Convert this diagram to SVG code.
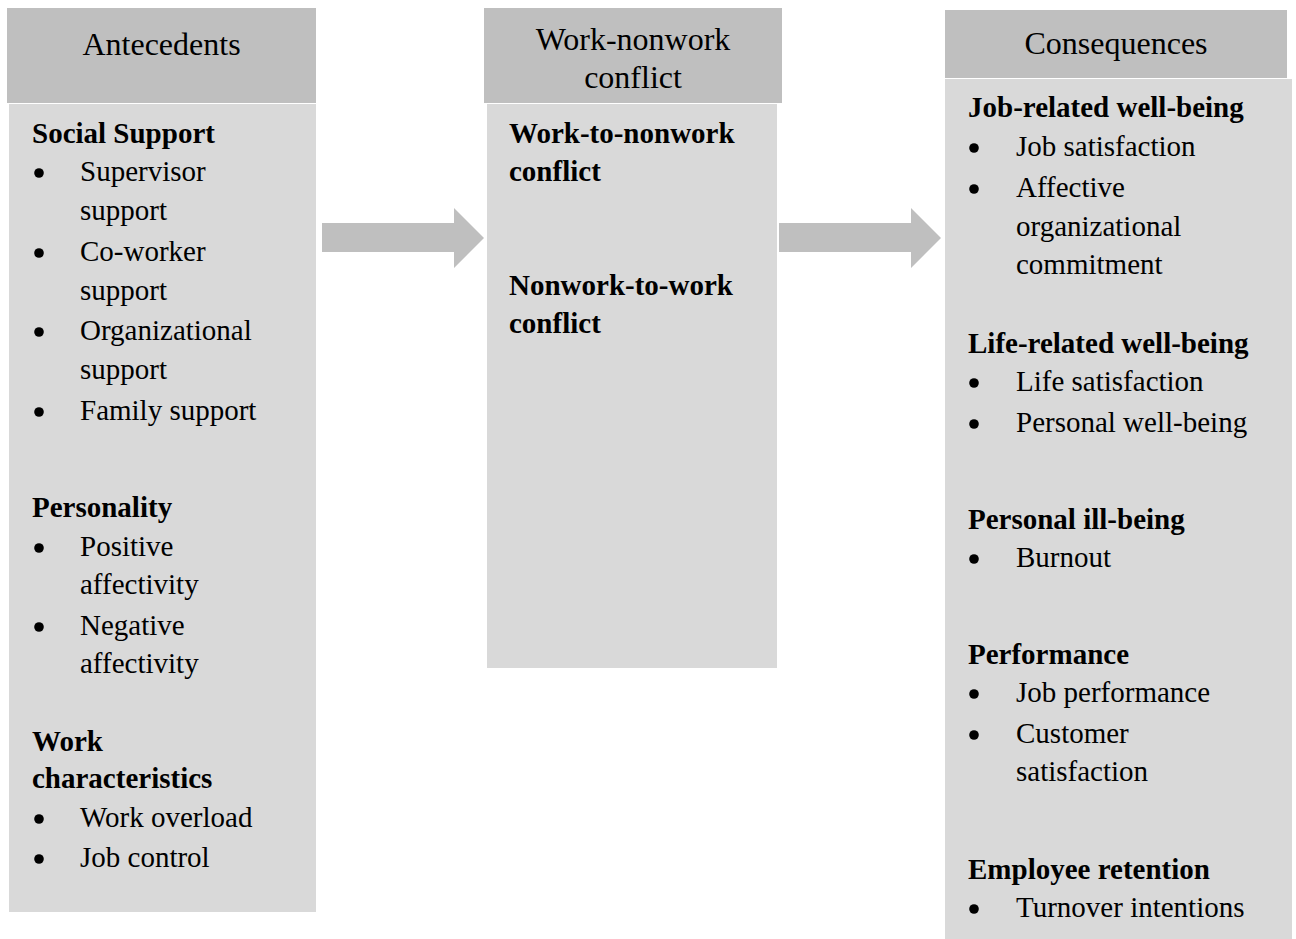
<svg xmlns="http://www.w3.org/2000/svg" width="1296" height="939" viewBox="0 0 1296 939">
  <style>
    .head { fill: #bfbfbf; }
    .body { fill: #d9d9d9; }
    .arrow { fill: #bfbfbf; }
    .dot { fill: #000; }
    text { font-family: "Liberation Serif", "Times New Roman", serif; fill: #000; }
    .title { font-size: 32px; text-anchor: middle; }
    .h { font-size: 29px; font-weight: bold; }
    .t { font-size: 29px; }
  </style>
  <rect x="0" y="0" width="1296" height="939" fill="#ffffff"/>

  <!-- Antecedents column -->
  <g id="antecedents">
    <rect class="head" x="7" y="8" width="309" height="95"/>
    <rect class="body" x="9" y="104" width="307" height="808"/>
    <text class="title" x="161.5" y="55">Antecedents</text>
    <text class="h" x="32" y="143">Social Support</text>
    <circle class="dot" cx="39" cy="173" r="4.8"/><text class="t" x="80" y="181">Supervisor</text>
    <text class="t" x="80" y="220">support</text>
    <circle class="dot" cx="39" cy="253" r="4.8"/><text class="t" x="80" y="261">Co-worker</text>
    <text class="t" x="80" y="300">support</text>
    <circle class="dot" cx="39" cy="332" r="4.8"/><text class="t" x="80" y="340">Organizational</text>
    <text class="t" x="80" y="379">support</text>
    <circle class="dot" cx="39" cy="412" r="4.8"/><text class="t" x="80" y="420">Family support</text>
    <text class="h" x="32" y="517">Personality</text>
    <circle class="dot" cx="39" cy="548" r="4.8"/><text class="t" x="80" y="556">Positive</text>
    <text class="t" x="80" y="594">affectivity</text>
    <circle class="dot" cx="39" cy="627" r="4.8"/><text class="t" x="80" y="635">Negative</text>
    <text class="t" x="80" y="673">affectivity</text>
    <text class="h" x="32" y="751">Work</text>
    <text class="h" x="32" y="788">characteristics</text>
    <circle class="dot" cx="39" cy="819" r="4.8"/><text class="t" x="80" y="827">Work overload</text>
    <circle class="dot" cx="39" cy="859" r="4.8"/><text class="t" x="80" y="867">Job control</text>
  </g>

  <!-- Work-nonwork conflict column -->
  <g id="conflict">
    <rect class="head" x="484" y="8" width="298" height="95"/>
    <rect class="body" x="487" y="104" width="290" height="564"/>
    <text class="title" x="633" y="50">Work-nonwork</text>
    <text class="title" x="633" y="88">conflict</text>
    <text class="h" x="509" y="143">Work-to-nonwork</text>
    <text class="h" x="509" y="181">conflict</text>
    <text class="h" x="509" y="295">Nonwork-to-work</text>
    <text class="h" x="509" y="333">conflict</text>
  </g>

  <!-- Consequences column -->
  <g id="consequences">
    <rect class="head" x="945" y="10" width="342" height="68"/>
    <rect class="body" x="945" y="79" width="347" height="860"/>
    <text class="title" x="1116" y="54">Consequences</text>
    <text class="h" x="968" y="117">Job-related well-being</text>
    <circle class="dot" cx="974" cy="148" r="4.8"/><text class="t" x="1016" y="156">Job satisfaction</text>
    <circle class="dot" cx="974" cy="189" r="4.8"/><text class="t" x="1016" y="197">Affective</text>
    <text class="t" x="1016" y="236">organizational</text>
    <text class="t" x="1016" y="274">commitment</text>
    <text class="h" x="968" y="353">Life-related well-being</text>
    <circle class="dot" cx="974" cy="383" r="4.8"/><text class="t" x="1016" y="391">Life satisfaction</text>
    <circle class="dot" cx="974" cy="424" r="4.8"/><text class="t" x="1016" y="432">Personal well-being</text>
    <text class="h" x="968" y="529">Personal ill-being</text>
    <circle class="dot" cx="974" cy="559" r="4.8"/><text class="t" x="1016" y="567">Burnout</text>
    <text class="h" x="968" y="664">Performance</text>
    <circle class="dot" cx="974" cy="694" r="4.8"/><text class="t" x="1016" y="702">Job performance</text>
    <circle class="dot" cx="974" cy="735" r="4.8"/><text class="t" x="1016" y="743">Customer</text>
    <text class="t" x="1016" y="781">satisfaction</text>
    <text class="h" x="968" y="879">Employee retention</text>
    <circle class="dot" cx="974" cy="909" r="4.8"/><text class="t" x="1016" y="917">Turnover intentions</text>
  </g>

  <!-- Block arrows between columns -->
  <g id="connectors">
    <polygon class="arrow" points="322,223 454,223 454,208 484,238 454,268 454,252 322,252"/>
    <polygon class="arrow" points="779,223 911,223 911,208 941,238 911,268 911,252 779,252"/>
  </g>
</svg>
